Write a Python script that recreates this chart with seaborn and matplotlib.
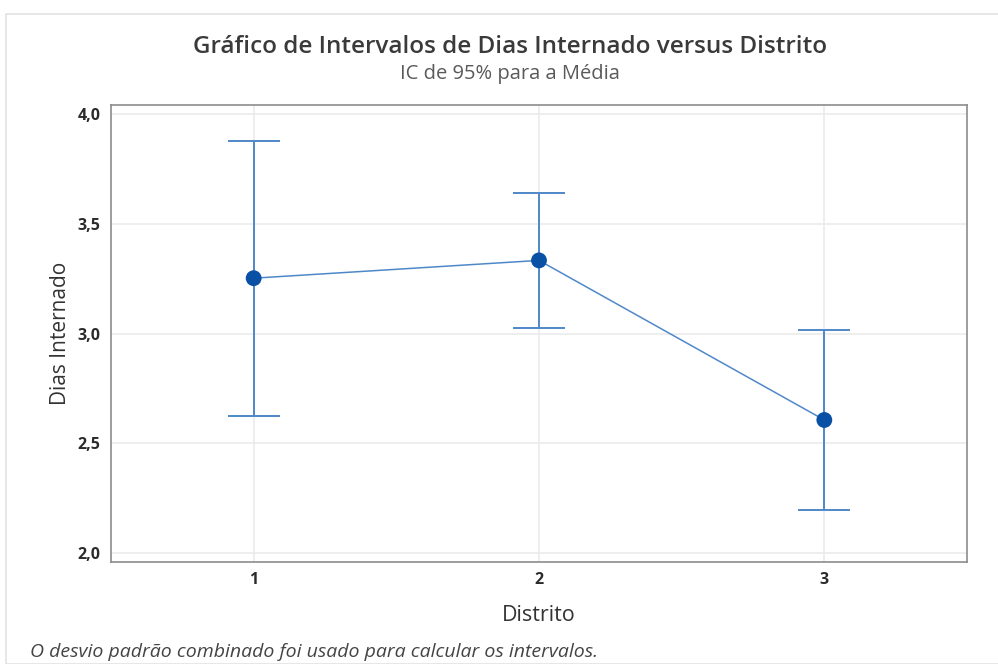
import numpy as np
import pandas as pd
import seaborn as sns
import matplotlib.pyplot as plt
from matplotlib.patches import Rectangle

# interval plot data
distritos = [1, 2, 3]
medias = [3.252, 3.333, 2.606]
ic_inf = [2.624, 3.025, 2.196]
ic_sup = [3.877, 3.642, 3.016]
yticks = [2.0, 2.5, 3.0, 3.5, 4.0]
ytick_labels = ['2,0', '2,5', '3,0', '3,5', '4,0']

df = pd.DataFrame({'Distrito': distritos, 'Media': medias,
                   'lo': ic_inf, 'hi': ic_sup})

sns.set_theme(style='white')
plt.rcParams['font.family'] = ['Open Sans', 'DejaVu Sans']

fig = plt.figure(figsize=(9.98, 6.64), dpi=100)
ax = fig.add_axes([111 / 998, 1 - 562 / 664, (967 - 111) / 998, (562 - 105) / 664])

# outer frame like the Minitab graph window
fig.patches.append(Rectangle((6 / 998, 0), 1.0, 1 - 14 / 664, transform=fig.transFigure,
                             fill=False, edgecolor='#e3e3e3', linewidth=1.2))

err_color = '#4f88c9'
ax.errorbar(df['Distrito'], df['Media'],
            yerr=[df['Media'] - df['lo'], df['hi'] - df['Media']],
            fmt='none', ecolor=err_color, elinewidth=1.4,
            capsize=19, capthick=1.4, zorder=2)
sns.lineplot(data=df, x='Distrito', y='Media', ax=ax, color=err_color,
             linewidth=1.1, zorder=3)
sns.scatterplot(data=df, x='Distrito', y='Media', ax=ax, color='#0a51a5',
                s=130, edgecolor='none', zorder=4)

ax.set_xlim(0.5, 3.5)
ax.set_ylim(1.959, 4.041)
ax.set_xticks(distritos)
ax.set_xticklabels([str(d) for d in distritos])
ax.set_yticks(yticks)
ax.set_yticklabels(ytick_labels)
ax.grid(True, color='#ebebeb', linewidth=1.2)
ax.set_axisbelow(True)
for s in ax.spines.values():
    s.set_color('#8c8c8c')
    s.set_linewidth(1.2)
ax.tick_params(axis='both', length=4, width=1, color='#8c8c8c',
               labelsize=11.5, labelcolor='#2b2b2b', direction='out')
for lab in ax.get_xticklabels() + ax.get_yticklabels():
    lab.set_fontweight('bold')

ax.set_xlabel('Distrito', fontsize=15.5, color='#333333', labelpad=12)
ax.set_ylabel('Dias Internado', fontsize=15, color='#333333', labelpad=5)

fig.text(0.511, 1 - 47 / 664, 'Gráfico de Intervalos de Dias Internado versus Distrito',
         ha='center', va='center', fontsize=17.5, fontweight='semibold', color='#3a3a3a')
fig.text(0.511, 1 - 74 / 664, 'IC de 95% para a Média', ha='center', va='center',
         fontsize=14.5, color='#5a5a5a')
fig.text(30 / 998, 1 - 652 / 664, 'O desvio padrão combinado foi usado para calcular os intervalos.',
         ha='left', va='center', fontsize=14, style='italic', color='#444444')

fig.savefig('out.png', dpi=100)
